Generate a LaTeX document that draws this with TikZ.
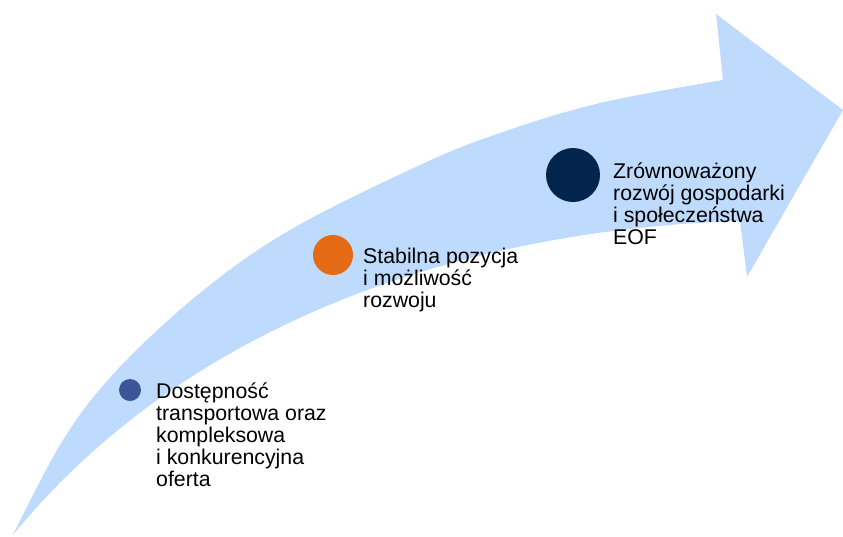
\documentclass[tikz,border=0pt]{standalone}
\usepackage{fontspec}
\setmainfont{Liberation Sans}
\definecolor{arrowblue}{RGB}{190,219,253}
\definecolor{dotblue}{RGB}{59,85,151}
\definecolor{dotorange}{RGB}{228,106,22}
\definecolor{dotnavy}{RGB}{2,36,77}
\tikzset{
  dot/.style={circle, inner sep=0pt, draw=none},
  label text/.style={anchor=base west, inner sep=0pt, align=left,
    font=\fontsize{21.3}{22}\selectfont, text=black}
}
\begin{document}
\begin{tikzpicture}[x=1pt, y=-1pt]
\useasboundingbox (0,0) rectangle (843,536);
% curved arrow
\fill[arrowblue] plot[smooth, tension=0.6] coordinates {(13,535) (63,440) (117,370) (200,293) (290,230) (420,165) (500,133) (600,103) (723,80)}
  -- (716,14) -- (843,110) -- (747,277) -- (740,221)
  .. controls (450,230) and (180,330) .. (13,535) -- cycle;
% dots
\node[dot, fill=dotblue, minimum size=22pt] (d1) at (130,390) {};
\node[dot, fill=dotorange, minimum size=40pt] (d2) at (333,255) {};
\node[dot, fill=dotnavy, minimum size=54pt] (d3) at (573,175) {};
% labels (anchor = baseline of the last line)
\node[label text] (t1) at (156,486) {Dostępność\\transportowa oraz\\kompleksowa\\i konkurencyjna\\oferta};
\node[label text] (t2) at (363,307) {Stabilna pozycja\\i możliwość\\rozwoju};
\node[label text] (t3) at (613,244) {Zrównoważony\\rozwój gospodarki\\i społeczeństwa\\EOF};
\end{tikzpicture}
\end{document}
